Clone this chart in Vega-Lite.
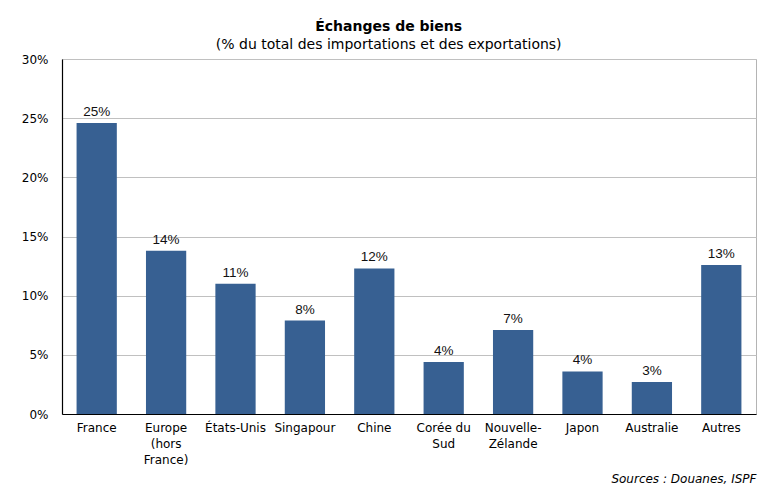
{
  "$schema": "https://vega.github.io/schema/vega-lite/v6.json",
  "description": "Échanges de biens par partenaire, en % du total des importations et des exportations.",
  "width": 694,
  "height": 355,
  "autosize": {"type": "none"},
  "padding": {"left": 62, "top": 59, "right": 18, "bottom": 84},
  "title": {
    "text": "Échanges de biens",
    "subtitle": "(% du total des importations et des exportations)",
    "font": "DejaVu Sans",
    "fontSize": 14,
    "fontWeight": "bold",
    "color": "#000000",
    "subtitleFont": "DejaVu Sans",
    "subtitleFontSize": 14,
    "subtitleColor": "#000000",
    "subtitlePadding": 4,
    "anchor": "middle",
    "frame": "bounds",
    "offset": 1
  },
  "data": {
    "values": [
      {"pays": "France", "part": 0.246},
      {"pays": "Europe (hors France)", "part": 0.138},
      {"pays": "États-Unis", "part": 0.110},
      {"pays": "Singapour", "part": 0.079},
      {"pays": "Chine", "part": 0.123},
      {"pays": "Corée du Sud", "part": 0.044},
      {"pays": "Nouvelle-Zélande", "part": 0.071},
      {"pays": "Japon", "part": 0.036},
      {"pays": "Australie", "part": 0.027},
      {"pays": "Autres", "part": 0.126}
    ]
  },
  "encoding": {
    "x": {
      "field": "pays",
      "type": "nominal",
      "sort": null,
      "scale": {"paddingInner": 0.42, "paddingOuter": 0.21},
      "title": "Sources : Douanes, ISPF",
      "axis": {
        "labelAngle": 0,
        "ticks": false,
        "domainColor": "#000000",
        "labelPadding": 8,
        "labelLineHeight": 16,
        "labelBaseline": "top",
        "labelExpr": "datum.value == 'Europe (hors France)' ? ['Europe', '(hors', 'France)'] : datum.value == 'Corée du Sud' ? ['Corée du', 'Sud'] : datum.value == 'Nouvelle-Zélande' ? ['Nouvelle-', 'Zélande'] : datum.value",
        "titleFontStyle": "italic",
        "titleFontWeight": "normal",
        "titleAnchor": "end",
        "titleAlign": "right",
        "titleBaseline": "alphabetic",
        "titleY": 68
      }
    },
    "y": {
      "field": "part",
      "type": "quantitative",
      "scale": {"domain": [0, 0.3]},
      "title": null,
      "axis": {
        "format": ".0%",
        "values": [0, 0.05, 0.1, 0.15, 0.2, 0.25, 0.3],
        "ticks": false,
        "domainColor": "#000000",
        "labelPadding": 14
      }
    }
  },
  "layer": [
    {"mark": {"type": "bar", "color": "#376092"}},
    {
      "mark": {
        "type": "text",
        "baseline": "bottom",
        "dy": -4,
        "font": "Liberation Sans",
        "fontSize": 13.5,
        "color": "#111111"
      },
      "encoding": {"text": {"field": "part", "format": ".0%"}}
    }
  ],
  "config": {
    "font": "DejaVu Sans",
    "view": {"stroke": "#b4b4b4"},
    "axis": {
      "labelFont": "DejaVu Sans",
      "labelFontSize": 12,
      "labelColor": "#000000",
      "titleFont": "DejaVu Sans",
      "titleFontSize": 12,
      "titleColor": "#000000",
      "gridColor": "#c0c0c0",
      "domainWidth": 1.2
    },
    "axisX": {"grid": false}
  }
}
